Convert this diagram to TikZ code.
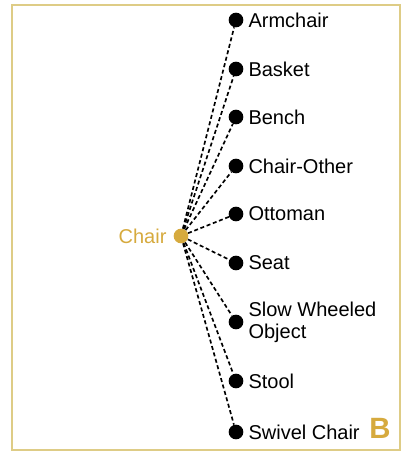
\documentclass[tikz,border=0pt]{standalone}
\usepackage{fontspec}
\setmainfont{Liberation Sans}
\usepackage{xcolor}
\usetikzlibrary{positioning}
\definecolor{chairgold}{RGB}{214,170,62}
\definecolor{framegold}{RGB}{222,204,134}
\tikzset{
      leaf/.style     = {circle, fill=black, inner sep=0pt, minimum size=11pt},
      hub/.style      = {circle, fill=chairgold, inner sep=0pt, minimum size=11pt},
      leaftext/.style = {inner sep=0pt, font=\fontsize{15}{16.5}\selectfont, align=left},
      link/.style     = {dashed, dash pattern=on 3pt off 2pt, line width=1.25pt}
    }
\begin{document}
\begin{tikzpicture}[x=0.75pt, y=-0.75pt]
  \useasboundingbox (0,0) rectangle (403,455);
  % Frame
  \draw[framegold, line width=1.6pt] (12,5) rectangle (400,450);
  % Centre node
  \node[hub] (chair) at (181,236) {};
  \node[leaftext, chairgold, left=5pt of chair] (chair-t) {Chair};
  % Leaves
  \node[leaf] (armchair) at (236,20) {};
  \node[leaf] (basket)   at (236,69) {};
  \node[leaf] (bench)    at (236,117) {};
  \node[leaf] (other)    at (236,166) {};
  \node[leaf] (ottoman)  at (236,214) {};
  \node[leaf] (seat)     at (236,263) {};
  \node[leaf] (slow)     at (236,322) {};
  \node[leaf] (stool)    at (236,381) {};
  \node[leaf] (swivel)   at (236,432) {};
  % Leaf labels
  \node[leaftext, right=3.5pt of armchair] (armchair-t) {Armchair};
  \node[leaftext, right=3.5pt of basket]   (basket-t)   {Basket};
  \node[leaftext, right=3.5pt of bench]    (bench-t)    {Bench};
  \node[leaftext, right=3.5pt of other]    (other-t)    {Chair-Other};
  \node[leaftext, right=3.5pt of ottoman]  (ottoman-t)  {Ottoman};
  \node[leaftext, right=3.5pt of seat]     (seat-t)     {Seat};
  \node[leaftext, right=3.5pt of slow]     (slow-t)     {Slow Wheeled\\Object};
  \node[leaftext, right=3.5pt of stool]    (stool-t)    {Stool};
  \node[leaftext, right=3.5pt of swivel]   (swivel-t)   {Swivel Chair};
  % Links
  \foreach \leafname in {armchair,basket,bench,other,ottoman,seat,slow,stool,swivel}
    \draw[link] (chair) -- (\leafname);
  % Panel letter
  \node[chairgold, inner sep=0pt, font=\fontsize{22}{24}\selectfont\bfseries] (panel) at (380,428) {B};
\end{tikzpicture}
\end{document}
